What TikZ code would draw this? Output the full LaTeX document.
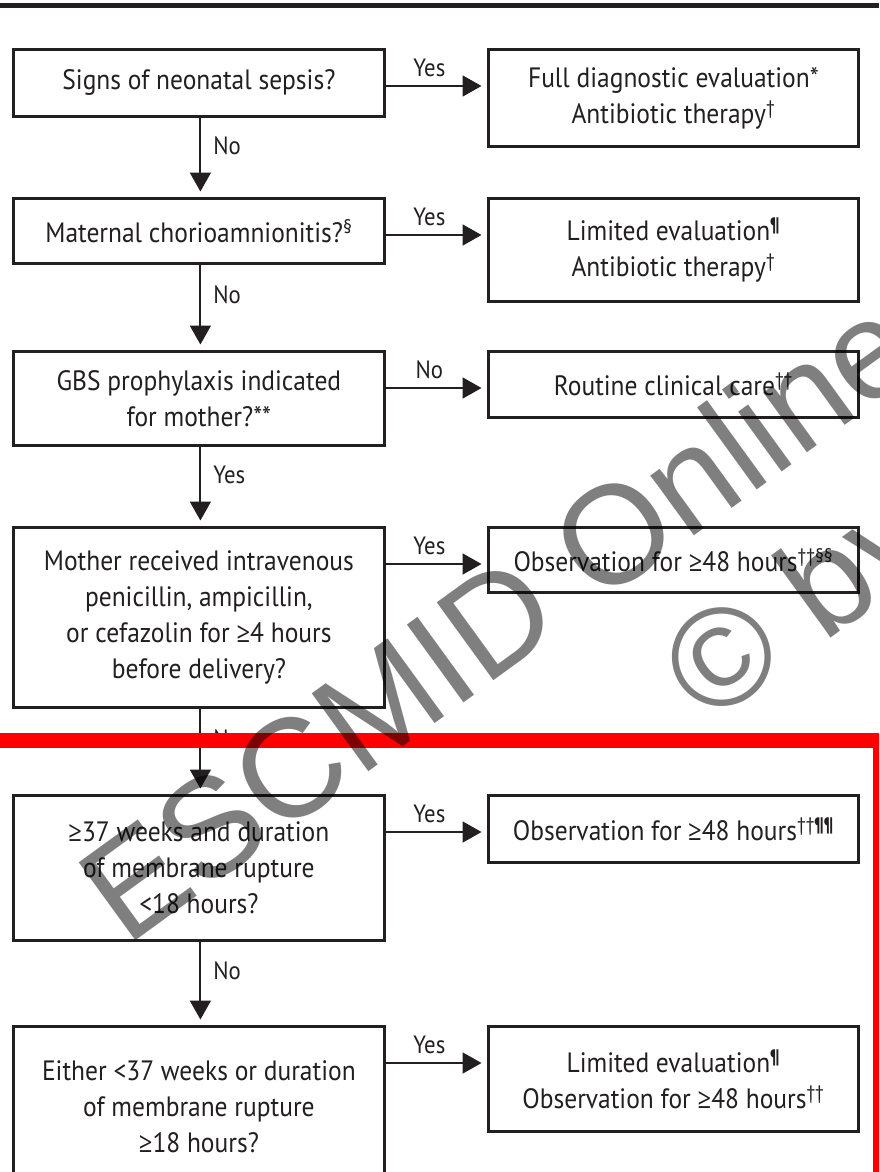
\documentclass[tikz,border=0pt]{standalone}
\usepackage{fontspec}
\setmainfont[FakeStretch=0.91]{PT Sans}
\newfontfamily\wmfont{Liberation Sans}
\newfontfamily\gefont[FakeStretch=0.85]{Open Sans}
\usetikzlibrary{arrows.meta,calc}
\definecolor{ink}{HTML}{231F20}
\definecolor{alertred}{HTML}{FF0000}
\newcommand\fn[1]{\textsuperscript{#1}}
\newcommand\pil{\textbf{¶}}
\newcommand\atleast{{\gefont ≥}}

\begin{document}
\begin{tikzpicture}[x=1pt,y=-1pt,
  box/.style={draw=ink, line width=2.8pt, align=center, inner sep=0pt,
    text=ink, font=\fontsize{28}{36}\selectfont},
  lbox/.style={box, anchor=north west, minimum width=371pt},
  rbox/.style={box, anchor=north west, minimum width=370pt},
  arr/.style={draw=ink, line width=1.9pt,
    -{Triangle[length=19pt,width=21pt]}, shorten >=5.5pt},
  lbl/.style={text=ink, font=\fontsize{25}{30}\selectfont, inner sep=0pt},
  wm/.style={font=\wmfont\fontsize{140}{168}\selectfont, text=black,
    text opacity=0.5, inner sep=0pt, anchor=base west, rotate=36}]
\useasboundingbox (0,0) rectangle (879,1172);
\clip (0,0) rectangle (879,1172);
\fill[white] (0,0) rectangle (879,1172);

% rule across the top
\draw[ink, line width=5pt] (0,5.8) -- (879,5.8);

% question column
\node[lbox, minimum height=67pt]  (q1) at (12,48)   {Signs of neonatal sepsis?};
\node[lbox, minimum height=65pt]  (q2) at (12,197)  {Maternal chorioamnionitis?\fn{§}};
\node[lbox, minimum height=94pt]  (q3) at (12,350)  {GBS prophylaxis indicated\\for mother?**};
\node[lbox, minimum height=180pt] (q4) at (12,526)  {Mother received intravenous\\penicillin, ampicillin,\\or cefazolin for \atleast4 hours\\before delivery?};
\node[lbox, minimum height=145pt] (q5) at (12,794)  {\atleast37 weeks and duration\\of membrane rupture\\<18 hours?};
\node[lbox, minimum height=160pt] (q6) at (12,1025) {Either <37 weeks or duration\\of membrane rupture\\\atleast18 hours?};

% action column
\node[rbox, minimum height=97pt]  (a1) at (487,48)   {Full diagnostic evaluation*\\Antibiotic therapy\fn{†}};
\node[rbox, minimum height=103pt] (a2) at (487,197)  {Limited evaluation\fn{\pil}\\Antibiotic therapy\fn{†}};
\node[rbox, minimum height=66pt]  (a3) at (487,350)  {Routine clinical care\fn{††}};
\node[rbox, minimum height=65pt]  (a4) at (487,526)  {Observation for \atleast48 hours\fn{††§§}};
\node[rbox, minimum height=67pt]  (a5) at (487,794)  {Observation for \atleast48 hours\fn{††\pil\pil}};
\node[rbox, minimum height=105pt] (a6) at (487,1025) {Limited evaluation\fn{\pil}\\Observation for \atleast48 hours\fn{††}};

% branches to the right
\foreach \q/\a/\t in {q1/a1/Yes, q2/a2/Yes, q3/a3/No, q4/a4/Yes, q5/a5/Yes, q6/a6/Yes}
  \draw[arr] ($(\q.north east)+(0,38)$) -- node[lbl, midway, above=8pt, xshift=-7pt] {\t} ($(\a.north west)+(0,38)$);

% downward chain
\foreach \u/\d/\t in {q1/q2/No, q2/q3/No, q3/q4/Yes, q4/q5/No, q5/q6/No}
  \draw[arr] ($(\u.south)+(1.5,0)$) -- node[lbl, pos=0.35, anchor=west, xshift=12pt] {\t} ($(\d.north)+(1.5,0)$);

% red frame
\draw[alertred, line width=15pt] (-30,740.5) -- (880.5,740.5) -- (880.5,1260);

% watermark
\node[wm] (wm1) at (126,948) {ESCMID Online};
\node[wm] (wm2) at (708,727) {© by};
\end{tikzpicture}
\end{document}
